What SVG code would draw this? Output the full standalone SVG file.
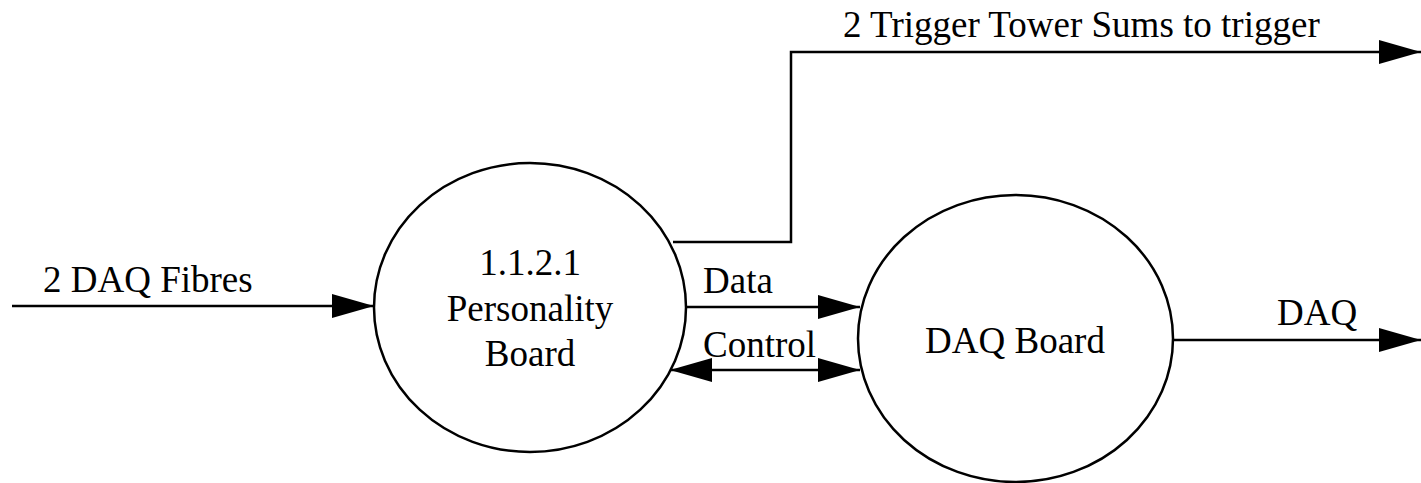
<svg xmlns="http://www.w3.org/2000/svg" width="1421" height="483" viewBox="0 0 1421 483">
<style>
text{font-family:"Liberation Serif","Times New Roman",serif;font-size:37px;fill:#000}
.node{fill:#fff;stroke:#000;stroke-width:2.5}
.c{fill:none;stroke:#000;stroke-width:2.5}
.mid{text-anchor:middle}
</style>
<defs>
<marker id="ah" markerUnits="userSpaceOnUse" markerWidth="42" markerHeight="26" refX="42" refY="13" orient="auto-start-reverse" viewBox="0 0 42 26">
<path d="M0,1 L42,13 L0,25 Z" fill="#000"/>
</marker>
</defs>
<rect width="1421" height="483" fill="#fff"/>
<g id="personality-board">
<ellipse class="node" cx="530" cy="307.5" rx="156" ry="144.5"/>
<text class="mid" x="530" y="275">1.1.2.1</text>
<text class="mid" x="530" y="321">Personality</text>
<text class="mid" x="530" y="366">Board</text>
</g>
<g id="daq-board">
<ellipse class="node" cx="1015.5" cy="338.5" rx="157.5" ry="143.5"/>
<text class="mid" x="1015" y="353">DAQ Board</text>
</g>
<g id="connectors">
<path class="c" d="M12,306 L374,306" marker-end="url(#ah)"/>
<path class="c" d="M673,242 L791,242 L791,52 L1421,52" marker-end="url(#ah)"/>
<path class="c" d="M687,307 L860,307" marker-end="url(#ah)"/>
<path class="c" d="M670,370 L860,370" marker-start="url(#ah)" marker-end="url(#ah)"/>
<path class="c" d="M1173,340 L1421,340" marker-end="url(#ah)"/>
</g>
<g id="labels">
<text x="43" y="292">2 DAQ Fibres</text>
<text x="843" y="37">2 Trigger Tower Sums to trigger</text>
<text x="703" y="293">Data</text>
<text x="703" y="357">Control</text>
<text x="1277" y="325">DAQ</text>
</g>
</svg>
